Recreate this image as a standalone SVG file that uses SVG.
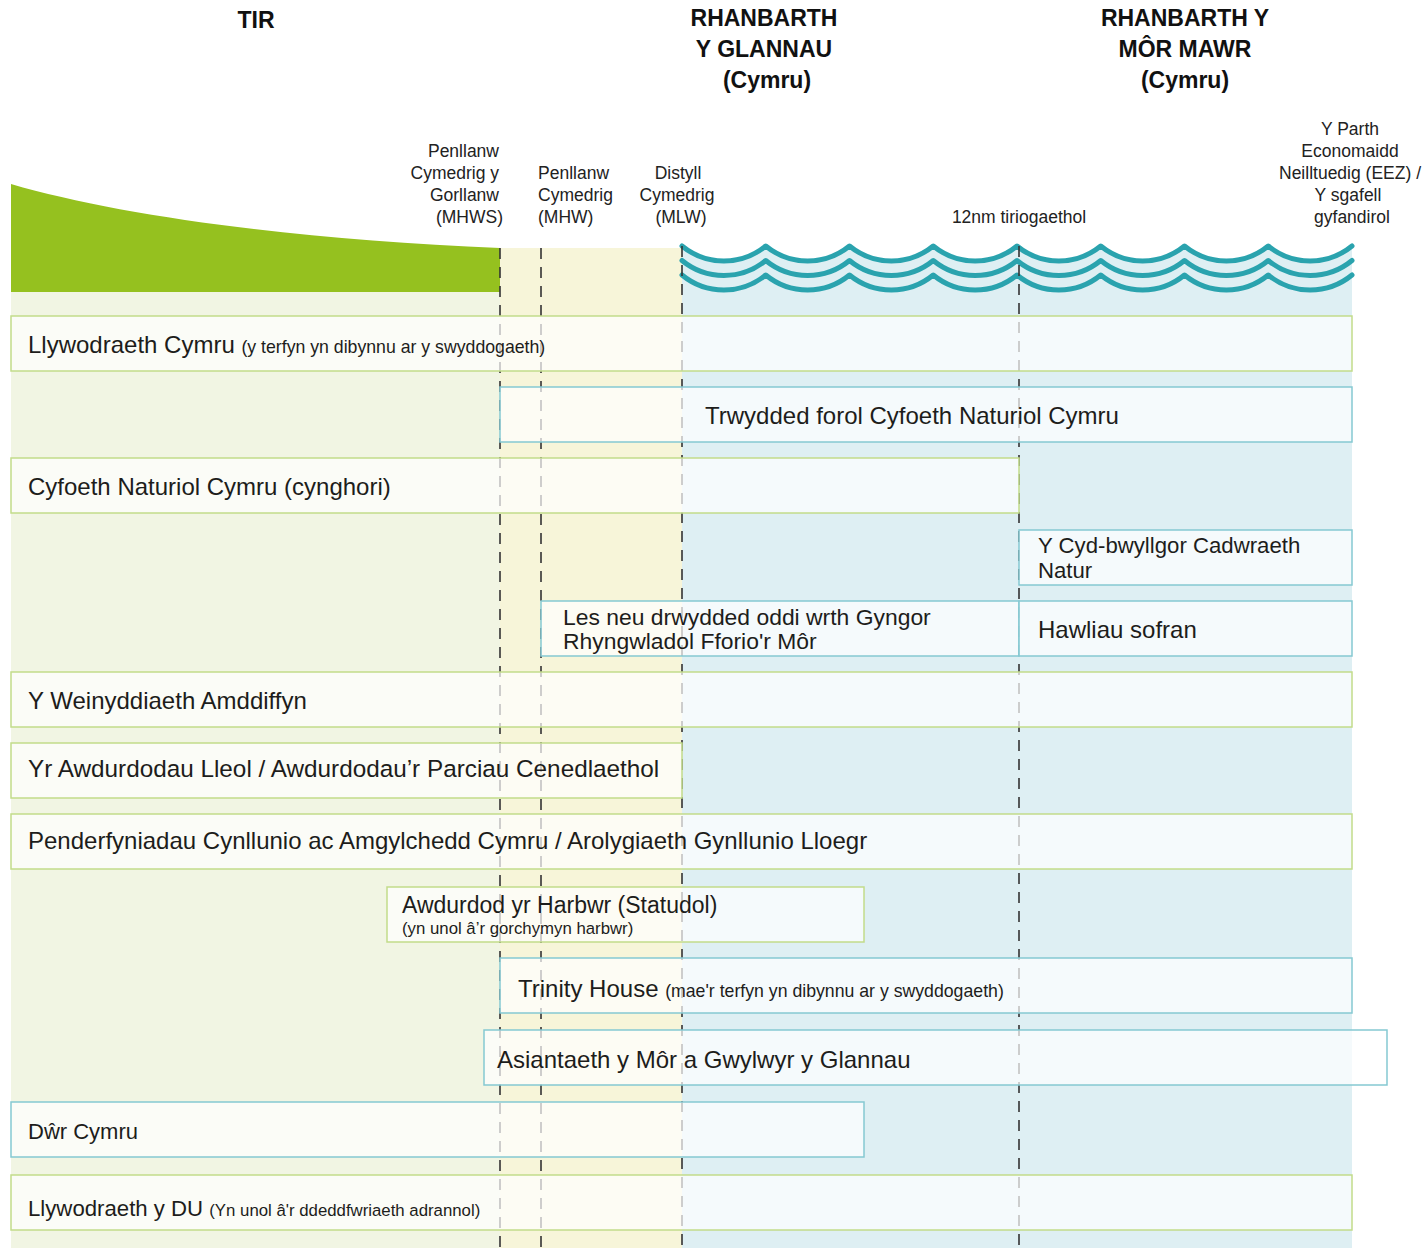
<svg xmlns="http://www.w3.org/2000/svg" width="1427" height="1248" viewBox="0 0 1427 1248">
<style>
text { font-family: "Liberation Sans", Arial, sans-serif; fill: #1d1d1b; }
.hdr { font-weight: bold; font-size: 23px; text-anchor: middle; fill: #111; }
.lbl { font-size: 17.5px; fill: #222; }
.main { font-size: 24px; }
.two { font-size: 22.5px; }
.sm { font-size: 17.7px; }
.box { fill: #ffffff; fill-opacity: 0.7; stroke-width: 1.5; }
.g { stroke: #c2dc8a; }
.t { stroke: #85c9d2; }
.dash { stroke: #333; stroke-width: 1.6; stroke-dasharray: 11 8; fill: none; }
.wave { fill: none; stroke: #2aa3ae; stroke-width: 5; stroke-linecap: round; stroke-linejoin: round; }
</style>
<defs>
<path id="wv" d="M682,0 A66,66 0 0 0 765.75,0 A66,66 0 0 0 849.5,0 A66,66 0 0 0 933.25,0 A66,66 0 0 0 1017,0 A66,66 0 0 0 1100.75,0 A66,66 0 0 0 1184.5,0 A66,66 0 0 0 1268.25,0 A66,66 0 0 0 1352,0"/>
</defs>

<g id="background">
  <rect x="11" y="292" width="489" height="956" fill="#f1f5e3"/>
  <rect x="500" y="248" width="182" height="1000" fill="#f7f5d9"/>
  <path d="M682,246 A66,66 0 0 0 765.75,246 A66,66 0 0 0 849.5,246 A66,66 0 0 0 933.25,246 A66,66 0 0 0 1017,246 A66,66 0 0 0 1100.75,246 A66,66 0 0 0 1184.5,246 A66,66 0 0 0 1268.25,246 A66,66 0 0 0 1352,246 L1352,1248 L682,1248 Z" fill="#deeff3"/>
  <path d="M11,184 C120,216 300,240 500,248 L500,292 L11,292 Z" fill="#95c11f"/>
</g>

<g id="waves">
  <use href="#wv" class="wave" transform="translate(0,246)"/>
  <use href="#wv" class="wave" transform="translate(0,260.5)"/>
  <use href="#wv" class="wave" transform="translate(0,275)"/>
</g>

<g id="headers">
  <text class="hdr" x="256" y="28">TIR</text>
  <text class="hdr" x="764" y="26">RHANBARTH</text>
  <text class="hdr" x="764" y="57">Y GLANNAU</text>
  <text class="hdr" x="767" y="88">(Cymru)</text>
  <text class="hdr" x="1185" y="26">RHANBARTH Y</text>
  <text class="hdr" x="1185" y="57">MÔR MAWR</text>
  <text class="hdr" x="1185" y="88">(Cymru)</text>
</g>

<g id="boundary-labels">
  <text class="lbl" text-anchor="end" x="499" y="157">Penllanw</text>
  <text class="lbl" text-anchor="end" x="499" y="179">Cymedrig y</text>
  <text class="lbl" text-anchor="end" x="499" y="201">Gorllanw</text>
  <text class="lbl" text-anchor="end" x="503" y="223">(MHWS)</text>
  <text class="lbl" x="538" y="179">Penllanw</text>
  <text class="lbl" x="538" y="201">Cymedrig</text>
  <text class="lbl" x="538" y="223">(MHW)</text>
  <text class="lbl" text-anchor="middle" x="678" y="179">Distyll</text>
  <text class="lbl" text-anchor="middle" x="677" y="201">Cymedrig</text>
  <text class="lbl" text-anchor="middle" x="681" y="223">(MLW)</text>
  <text class="lbl" text-anchor="middle" x="1019" y="223">12nm tiriogaethol</text>
  <text class="lbl" text-anchor="middle" x="1350" y="135">Y Parth</text>
  <text class="lbl" text-anchor="middle" x="1350" y="157">Economaidd</text>
  <text class="lbl" text-anchor="middle" x="1350" y="179">Neilltuedig (EEZ) /</text>
  <text class="lbl" text-anchor="middle" x="1348" y="201">Y sgafell</text>
  <text class="lbl" text-anchor="middle" x="1352" y="223">gyfandirol</text>
</g>

<g id="connectors">
  <line class="dash" x1="500" y1="248" x2="500" y2="1248"/>
  <line class="dash" x1="541" y1="248" x2="541" y2="1248"/>
  <line class="dash" x1="682" y1="246" x2="682" y2="1248"/>
  <line class="dash" x1="1019" y1="246" x2="1019" y2="1248"/>
</g>

<g id="node-llywodraeth-cymru">
  <rect class="box g" x="11" y="316" width="1341" height="55"/>
  <text class="main" x="28" y="353">Llywodraeth Cymru <tspan class="sm">(y terfyn yn dibynnu ar y swyddogaeth)</tspan></text>
</g>
<g id="node-trwydded-forol">
  <rect class="box t" x="500" y="387" width="852" height="55"/>
  <text class="main" x="705" y="424">Trwydded forol Cyfoeth Naturiol Cymru</text>
</g>
<g id="node-cnc-cynghori">
  <rect class="box g" x="11" y="458" width="1008" height="55"/>
  <text class="main" x="28" y="495">Cyfoeth Naturiol Cymru (cynghori)</text>
</g>
<g id="node-cyd-bwyllgor">
  <rect class="box t" x="1019" y="530" width="333" height="55"/>
  <text class="two" x="1038" y="553" style="font-size:22.2px">Y Cyd-bwyllgor Cadwraeth</text>
  <text class="two" x="1038" y="578" style="font-size:22.2px">Natur</text>
</g>
<g id="node-les-drwydded">
  <rect class="box t" x="541" y="601" width="478" height="55"/>
  <text class="two" x="563" y="625" style="font-size:22.9px">Les neu drwydded oddi wrth Gyngor</text>
  <text class="two" x="563" y="649" style="font-size:22.9px">Rhyngwladol Fforio'r Môr</text>
</g>
<g id="node-hawliau-sofran">
  <rect class="box t" x="1019" y="601" width="333" height="55"/>
  <text class="main" x="1038" y="638">Hawliau sofran</text>
</g>
<g id="node-weinyddiaeth">
  <rect class="box g" x="11" y="672" width="1341" height="55"/>
  <text class="main" x="28" y="709">Y Weinyddiaeth Amddiffyn</text>
</g>
<g id="node-awdurdodau-lleol">
  <rect class="box g" x="11" y="743" width="671" height="55"/>
  <text class="main" x="28" y="777" style="font-size:24.3px">Yr Awdurdodau Lleol / Awdurdodau’r Parciau Cenedlaethol</text>
</g>
<g id="node-penderfyniadau">
  <rect class="box g" x="11" y="814" width="1341" height="55"/>
  <text class="main" x="28" y="849">Penderfyniadau Cynllunio ac Amgylchedd Cymru / Arolygiaeth Gynllunio Lloegr</text>
</g>
<g id="node-harbwr">
  <rect class="box g" x="387" y="887" width="477" height="55"/>
  <text class="main" x="402" y="913" style="font-size:23px">Awdurdod yr Harbwr (Statudol)</text>
  <text x="402" y="934" style="font-size:16.8px">(yn unol â’r gorchymyn harbwr)</text>
</g>
<g id="node-trinity-house">
  <rect class="box t" x="500" y="958" width="852" height="55"/>
  <text class="main" x="518" y="997">Trinity House <tspan class="sm">(mae'r terfyn yn dibynnu ar y swyddogaeth)</tspan></text>
</g>
<g id="node-asiantaeth">
  <rect class="box t" x="484" y="1030" width="903" height="55"/>
  <text class="main" x="497" y="1068">Asiantaeth y Môr a Gwylwyr y Glannau</text>
</g>
<g id="node-dwr-cymru">
  <rect class="box t" x="11" y="1102" width="853" height="55"/>
  <text class="main" x="28" y="1139" style="font-size:22px">Dŵr Cymru</text>
</g>
<g id="node-llywodraeth-du">
  <rect class="box g" x="11" y="1175" width="1341" height="55"/>
  <text class="main" x="28" y="1216" style="font-size:22.2px">Llywodraeth y DU <tspan style="font-size:16.8px">(Yn unol â'r ddeddfwriaeth adrannol)</tspan></text>
</g>
</svg>
